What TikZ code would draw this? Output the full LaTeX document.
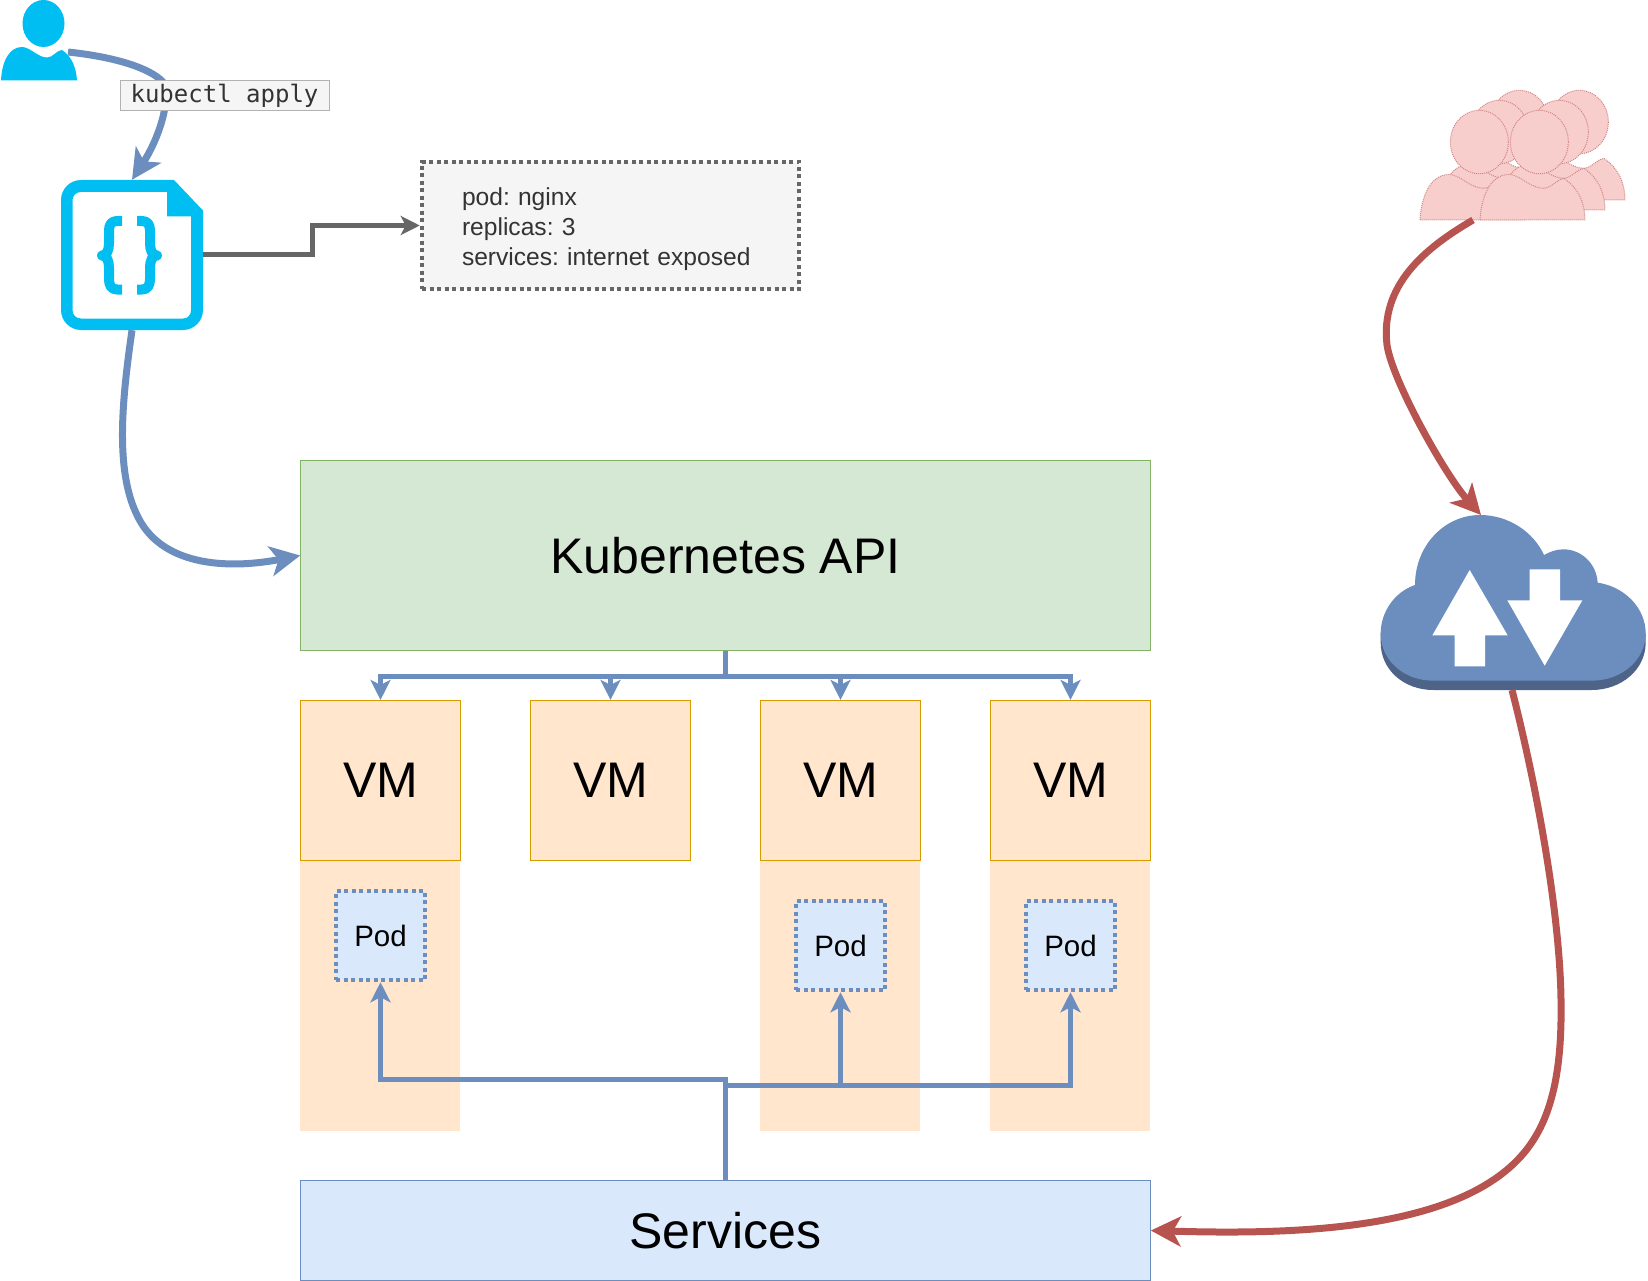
\documentclass[tikz,border=0pt]{standalone}
\usepackage{fontspec}
\setmainfont{Liberation Sans}
\newfontfamily\kubemono{DejaVu Sans Mono}
\usetikzlibrary{arrows.meta}
\definecolor{bluel}{HTML}{6C8EBF}
\definecolor{bluef}{HTML}{DAE8FC}
\definecolor{greenl}{HTML}{82B366}
\definecolor{greenf}{HTML}{D5E8D4}
\definecolor{orl}{HTML}{D79B00}
\definecolor{orf}{HTML}{FFE6CC}
\definecolor{redl}{HTML}{B85450}
\definecolor{redf}{HTML}{F8CECC}
\definecolor{grayl}{HTML}{666666}
\definecolor{grayf}{HTML}{F5F5F5}
\definecolor{iconc}{HTML}{00BEF2}
\definecolor{clouddark}{HTML}{4D6488}
\newcommand{\personsketch}[3]{%
  \begin{scope}[shift={(#1,#2)},x=#3pt,y=-#3pt]
    \path[personsty] (0,0) .. controls (1,-18) and (8,-33) .. (21,-33)
      .. controls (29,-33) and (36,-23) .. (46,-23)
      .. controls (52,-23) and (56,-30) .. (61,-30)
      .. controls (70,-24) and (76,-14) .. (76,0) -- cycle;
    \path[personsty] (43,-56.5) ellipse [x radius=21, y radius=23];
  \end{scope}}
\tikzset{
  box/.style={draw,line width=1.1pt,inner sep=0pt,align=center},
  apibox/.style={box,draw=greenl,fill=greenf,minimum width=849.5pt,minimum height=190.5pt,font=\fontsize{50}{56}\selectfont},
  svcbox/.style={box,draw=bluel,fill=bluef,minimum width=849.5pt,minimum height=100pt,font=\fontsize{50}{56}\selectfont},
  vmbox/.style={box,draw=orl,fill=orf,minimum width=160pt,minimum height=160pt,font=\fontsize{50}{56}\selectfont},
  vmband/.style={fill=orf,inner sep=0pt,minimum width=160pt,minimum height=270pt},
  podbox/.style={draw=bluel,fill=bluef,line width=4.5pt,dash pattern=on 4pt off 3.5pt,inner sep=0pt,minimum width=89pt,minimum height=89pt,font=\fontsize{29.5}{34}\selectfont},
  specbox/.style={draw=grayl,fill=grayf,line width=4.5pt,dash pattern=on 4pt off 3.5pt,inner xsep=40pt,inner ysep=0pt,text width=297pt,minimum height=127pt,align=left,text=black!80,font=\fontsize{24.6}{30}\selectfont\frenchspacing},
  cmdlabel/.style={draw=black!30,fill=grayf,line width=1pt,inner sep=0pt,minimum width=209pt,minimum height=30pt,text=black!80,font=\kubemono\fontsize{24}{28}\selectfont},
  thinblue/.style={draw=bluel,line width=5pt,-{Stealth[length=20pt,width=20pt,inset=5pt]}},
  grayarrow/.style={draw=grayl,line width=5pt,-{Stealth[length=19pt,width=19pt,inset=5pt]}},
  thickblue/.style={draw=bluel,line width=7pt,-{Stealth[length=30pt,width=30pt,inset=8pt]}},
  thickred/.style={draw=redl,line width=7pt,-{Stealth[length=30pt,width=30pt,inset=8pt]}},
  personsty/.style={fill=redf,draw=redl!70,line width=1pt,dash pattern=on 1pt off 1pt},
  usericon/.style={fill=iconc,draw=none},
  bracesty/.style={draw=iconc,line width=10pt,line join=round},
}
\begin{document}
\begin{tikzpicture}[x=1pt,y=-1pt]
\useasboundingbox (0,0) rectangle (1648,1281);

% VM bands behind everything
\node[vmband] (band1) at (380,995.5) {};
\node[vmband] (band3) at (840,995.5) {};
\node[vmband] (band4) at (1070,995.5) {};

% main boxes
\node[apibox] (kapi) at (725.5,555.5) {Kubernetes API};
\node[vmbox] (vm1) at (380.5,780.5) {VM};
\node[vmbox] (vm2) at (610.5,780.5) {VM};
\node[vmbox] (vm3) at (840.5,780.5) {VM};
\node[vmbox] (vm4) at (1070.5,780.5) {VM};
\node[podbox] (pod1) at (380.5,935.5) {Pod};
\node[podbox] (pod3) at (840.5,945.5) {Pod};
\node[podbox] (pod4) at (1070.5,945.5) {Pod};
\node[svcbox] (svc) at (725.5,1230.5) {Services};
\node[specbox] (spec) at (610.5,225.5) {\rule{0pt}{26pt}pod: nginx\\replicas: 3\\services: internet exposed};

% user icon
\node[inner sep=0pt,minimum width=77pt,minimum height=81pt] (user) at (38.5,40.5) {};
\fill[usericon] (1,80.5) .. controls (2,60) and (10,47) .. (22,47)
  .. controls (30,47) and (38,57.5) .. (47,57.5)
  .. controls (53,57.5) and (57,50) .. (62,50)
  .. controls (71,56) and (76,66) .. (77,80.5) -- cycle;
\fill[usericon] (43.5,23.5) ellipse [x radius=21, y radius=23.5];

% file icon
\node[inner sep=0pt,minimum width=142pt,minimum height=150pt] (file) at (132,255) {};
\fill[usericon,even odd rule]
  (81,180) -- (174,180) -- (203,210.5) -- (203,310)
  .. controls (203,321) and (194,330) .. (183,330) -- (81,330)
  .. controls (70,330) and (61,321) .. (61,310) -- (61,200)
  .. controls (61,189) and (70,180) .. (81,180) -- cycle
  (81,192) .. controls (76,192) and (72.5,196) .. (72.5,200) -- (72.5,310)
  .. controls (72.5,315) and (76,318.5) .. (81,318.5) -- (183,318.5)
  .. controls (188,318.5) and (191,315) .. (191,310) -- (191,216.5) -- (167,216.5) -- (167,192) -- cycle;
\draw[bracesty] (122,221) -- (117,221) .. controls (111,221) and (109,225) .. (109,231)
  -- (109,243) .. controls (109,250) and (107,255.5) .. (102,255.5)
  .. controls (107,255.5) and (109,261) .. (109,268)
  -- (109,279) .. controls (109,285) and (111,289.5) .. (117,289.5) -- (122,289.5);
\draw[bracesty] (137,221) -- (142,221) .. controls (148,221) and (150,225) .. (150,231)
  -- (150,243) .. controls (150,250) and (152,255.5) .. (157,255.5)
  .. controls (152,255.5) and (150,261) .. (150,268)
  -- (150,279) .. controls (150,285) and (148,289.5) .. (142,289.5) -- (137,289.5);

% crowd
\node[inner sep=0pt,minimum width=205pt,minimum height=130pt] (users) at (1522.5,155) {};
\personsketch{1460}{200}{1.38}
\personsketch{1440}{210}{1.38}
\personsketch{1420}{220}{1.38}
\personsketch{1520}{200}{1.38}
\personsketch{1500}{210}{1.38}
\personsketch{1480}{220}{1.38}

% cloud
\node[inner sep=0pt,minimum width=265pt,minimum height=175pt] (cloud) at (1513.5,602.5) {};
\begin{scope}[shift={(1360,490)},x=0.33333pt,y=-0.33333pt]
  \fill[clouddark] (62,430) -- (62,458) .. controls (62,538) and (130,600) .. (220,600)
    -- (695,600) .. controls (785,600) and (857,538) .. (857,458) -- (857,430) -- cycle;
  \fill[bluel] (165,285) .. controls (165,165) and (255,75) .. (360,75)
    .. controls (445,75) and (520,125) .. (552,195)
    .. controls (572,184) and (590,178) .. (610,178)
    .. controls (665,178) and (710,222) .. (713,278)
    .. controls (795,290) and (857,355) .. (857,430)
    .. controls (857,510) and (785,572) .. (695,572) -- (220,572)
    .. controls (130,572) and (62,510) .. (62,430)
    .. controls (62,365) and (105,305) .. (165,285) -- cycle;
  \fill[white] (329,240) -- (443,436) -- (375,436) -- (375,529) -- (284,529) -- (284,436) -- (217,436) -- cycle;
  \fill[white] (509,238) -- (600,238) -- (600,331) -- (667,331) -- (554,527) -- (442,331) -- (509,331) -- cycle;
\end{scope}

% connector end points
\coordinate (userout) at (68,52);
\coordinate (usersout) at (1473,220);
\coordinate (cloudin) at (1481,515);
\coordinate (cloudout) at (1512,690);

% connectors
\draw[thickblue] (userout) .. controls (115,57) and (150,68) .. (163,82)
  .. controls (172,100) and (158,140) .. (file.north);
\node[cmdlabel] (cmd) at (224.5,96) {kubectl apply};
\draw[thickblue] (file.south) .. controls (122,400) and (115,470) .. (137,515)
  .. controls (160,565) and (225,570) .. (kapi.west);
\draw[grayarrow] (file.east) -- ++(109,0) |- (spec.west);
\draw[thinblue] (kapi.south) -- ++(0,25.5) -| (vm1.north);
\draw[thinblue] (kapi.south) -- ++(0,25.5) -| (vm2.north);
\draw[thinblue] (kapi.south) -- ++(0,25.5) -| (vm3.north);
\draw[thinblue] (kapi.south) -- ++(0,25.5) -| (vm4.north);
\draw[thinblue] (svc.north) -- ++(0,-100) -| (pod1.south);
\draw[thinblue] (svc.north) -- ++(0,-94.5) -| (pod3.south);
\draw[thinblue] (svc.north) -- ++(0,-94.5) -| (pod4.south);
\draw[thickred] (usersout) .. controls (1425,248) and (1380,285) .. (1387,345)
  .. controls (1392,380) and (1445,475) .. (cloudin);
\draw[thickred] (cloudout) .. controls (1540,800) and (1560,920) .. (1561,1000)
  .. controls (1562,1060) and (1555,1110) .. (1530,1145)
  .. controls (1470,1230) and (1300,1235) .. (svc.east);
\end{tikzpicture}
\end{document}
